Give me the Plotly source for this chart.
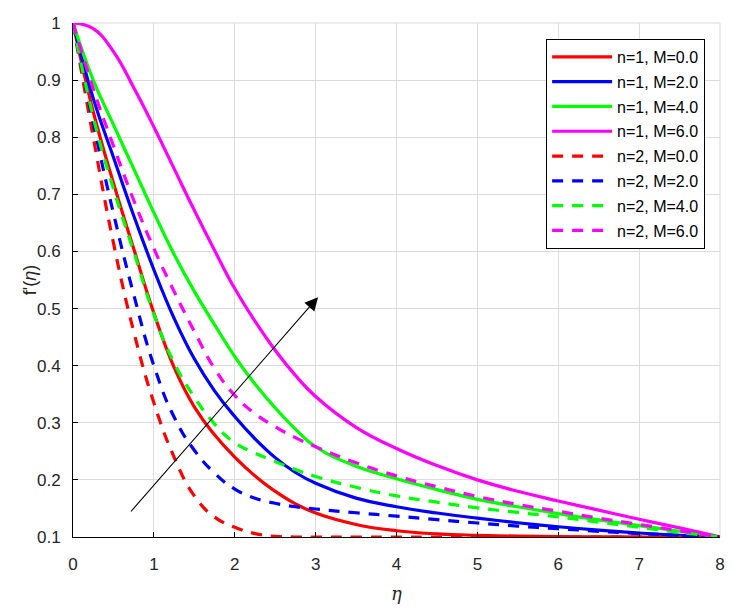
import plotly.graph_objects as go

eta = [0, 0.25, 0.5, 0.75, 1.0, 1.25, 1.5, 1.75, 2.0, 2.25, 2.5, 2.75, 3.0,
       3.5, 4.0, 4.5, 5.0, 5.5, 6.0, 6.5, 7.0, 7.5, 8.0]

f_n1_m0 = [1.0, 0.845, 0.72, 0.605, 0.492, 0.397, 0.328, 0.279, 0.240, 0.207, 0.180, 0.158, 0.142,
           0.122, 0.111, 0.1055, 0.103, 0.1015, 0.1007, 0.1003, 0.1, 0.1, 0.1]
f_n1_m2 = [1.0, 0.868, 0.765, 0.663, 0.568, 0.483, 0.412, 0.356, 0.311, 0.272, 0.239, 0.213, 0.194,
           0.168, 0.153, 0.142, 0.133, 0.125, 0.118, 0.112, 0.107, 0.103, 0.1]
f_n1_m4 = [1.0, 0.9, 0.822, 0.745, 0.668, 0.595, 0.53, 0.472, 0.416, 0.368, 0.326, 0.289, 0.258,
           0.224, 0.202, 0.183, 0.166, 0.153, 0.141, 0.130, 0.12, 0.11, 0.1]
f_n1_m6 = [1.0, 0.99, 0.95, 0.887, 0.818, 0.745, 0.672, 0.602, 0.535, 0.478, 0.427, 0.383, 0.346,
           0.292, 0.255, 0.225, 0.2, 0.18, 0.163, 0.147, 0.131, 0.116, 0.1]
f_n2_m0 = [1.0, 0.8, 0.615, 0.46, 0.335, 0.24, 0.172, 0.135, 0.117, 0.106, 0.101, 0.1, 0.1,
           0.1, 0.1, 0.1, 0.1, 0.1, 0.1, 0.1, 0.1, 0.1, 0.1]
f_n2_m2 = [1.0, 0.825, 0.667, 0.525, 0.4, 0.31, 0.252, 0.212, 0.184, 0.168, 0.159, 0.153, 0.149,
           0.1425, 0.1365, 0.1305, 0.1245, 0.119, 0.1145, 0.11, 0.106, 0.103, 0.1]
f_n2_m4 = [1.0, 0.835, 0.71, 0.6, 0.49, 0.405, 0.345, 0.298, 0.265, 0.247, 0.232, 0.218, 0.206,
           0.187, 0.172, 0.161, 0.151, 0.143, 0.135, 0.126, 0.117, 0.108, 0.1]
f_n2_m6 = [1.0, 0.885, 0.785, 0.69, 0.605, 0.53, 0.46, 0.395, 0.348, 0.316, 0.293, 0.274, 0.258,
           0.23, 0.207, 0.188, 0.171, 0.157, 0.145, 0.133, 0.122, 0.111, 0.1]

names = ["n=1, M=0.0", "n=1, M=2.0", "n=1, M=4.0", "n=1, M=6.0",
         "n=2, M=0.0", "n=2, M=2.0", "n=2, M=4.0", "n=2, M=6.0"]
series = [f_n1_m0, f_n1_m2, f_n1_m4, f_n1_m6, f_n2_m0, f_n2_m2, f_n2_m4, f_n2_m6]
colors = ["#ff0000", "#0000ff", "#00ff00", "#ff00ff"] * 2
dashes = ["solid"] * 4 + ["11px,9px"] * 4

x_title = "<i>η</i>"
y_title = "f'(<i>η</i>)"

# arrow endpoints (tail -> head)
arrow_tail = (0.70, 0.142)
arrow_head = (3.03, 0.52)

fig = go.Figure()
for name, f, c, d in zip(names, series, colors, dashes):
    fig.add_trace(go.Scatter(x=eta, y=f, mode="lines", name=name, legendgroup=name,
                             line=dict(color=c, width=3.2, dash=d, shape="spline", smoothing=1.3)))

fig.add_annotation(x=arrow_head[0], y=arrow_head[1], ax=arrow_tail[0], ay=arrow_tail[1],
                   xref="x", yref="y", axref="x", ayref="y", text="", showarrow=True,
                   arrowhead=2, arrowsize=2.4, arrowwidth=1.1, arrowcolor="black")

font = "Liberation Sans, Arial, sans-serif"
fig.add_annotation(text=x_title, xref="paper", yref="paper", x=0.5, y=-0.109,
                   xanchor="center", yanchor="middle", showarrow=False,
                   font=dict(size=18, family="DejaVu Serif, serif", color="#262626"))
fig.add_annotation(text=y_title, xref="paper", yref="paper", x=-0.066, y=0.5,
                   xanchor="center", yanchor="middle", showarrow=False, textangle=-90,
                   font=dict(size=18, family=font, color="#262626"))

fig.update_layout(
    width=734, height=608,
    margin=dict(l=73, r=9, t=23, b=71),
    paper_bgcolor="white", plot_bgcolor="white",
    font=dict(family=font, size=17, color="#262626"),
    showlegend=True,
    legend=dict(x=0.977, y=0.969, xanchor="right", yanchor="top",
                bgcolor="white", bordercolor="black", borderwidth=1,
                font=dict(family=font, size=16, color="black"),
                itemwidth=60, tracegroupgap=1),
    shapes=[
        dict(type="line", xref="paper", yref="paper", x0=0, x1=1, y0=1, y1=1,
             line=dict(color="#d9d9d9", width=1), layer="below"),
        dict(type="line", xref="paper", yref="paper", x0=1, x1=1, y0=0, y1=1,
             line=dict(color="#d9d9d9", width=1), layer="below"),
    ],
)
fig.update_xaxes(range=[0, 8], dtick=1, tick0=0, showgrid=True, gridcolor="#dcdcdc", gridwidth=1,
                 showline=True, linecolor="black", linewidth=1, ticks="inside", ticklen=5,
                 tickcolor="black", zeroline=False, ticklabelstandoff=12)
fig.update_yaxes(range=[0.1, 1.0], dtick=0.1, tick0=0.1, showgrid=True, gridcolor="#dcdcdc", gridwidth=1,
                 showline=True, linecolor="black", linewidth=1, ticks="inside", ticklen=5,
                 tickcolor="black", zeroline=False, ticklabelstandoff=8)

fig.write_html("out.html")
